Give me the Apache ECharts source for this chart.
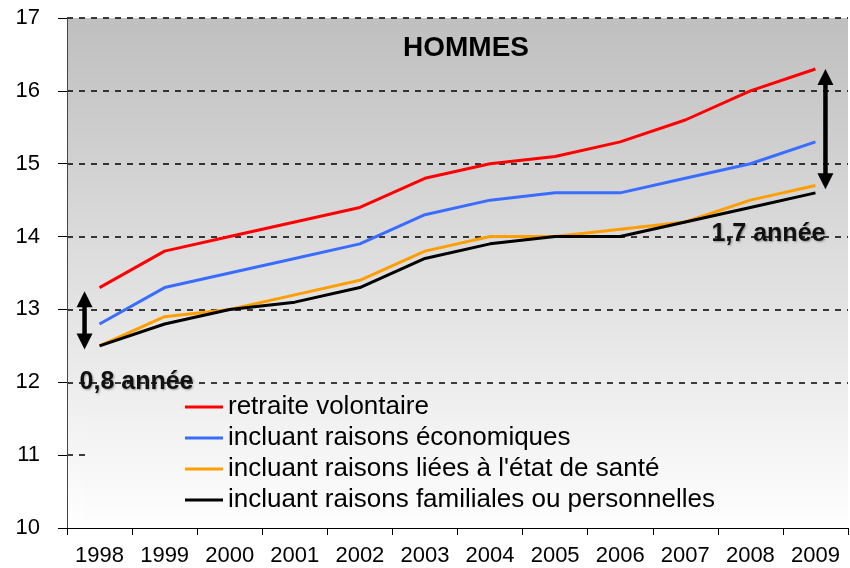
<!DOCTYPE html>
<html>
<head>
<meta charset="utf-8">
<script src="https://cdn.jsdelivr.net/npm/echarts@6/dist/echarts.min.js"></script>
<style>html,body{margin:0;padding:0;background:#fff}#c{width:850px;height:568px}</style>
</head>
<body>
<div id="c"></div>
<script>
const years = ['1998','1999','2000','2001','2002','2003','2004','2005','2006','2007','2008','2009'];
const retraiteVolontaire = [13.3, 13.8, 14.0, 14.2, 14.4, 14.8, 15.0, 15.1, 15.3, 15.6, 16.0, 16.3];
const raisonsEconomiques = [12.8, 13.3, 13.5, 13.7, 13.9, 14.3, 14.5, 14.6, 14.6, 14.8, 15.0, 15.3];
const raisonsSante = [12.5, 12.9, 13.0, 13.2, 13.4, 13.8, 14.0, 14.0, 14.1, 14.2, 14.5, 14.7];
const raisonsFamiliales = [12.5, 12.8, 13.0, 13.1, 13.3, 13.7, 13.9, 14.0, 14.0, 14.2, 14.4, 14.6];
const seriesNames = ['retraite volontaire', 'incluant raisons économiques', "incluant raisons liées à l'état de santé", 'incluant raisons familiales ou personnelles'];
const seriesColors = ['#ff0000', '#3a6dff', '#ff9e00', '#000000'];
const gapLeft = [13.25, 12.45];
const gapRight = [16.3, 14.65];
const gapLabels = ['0,8 année', '1,7 année'];

const FONT = '"Liberation Sans", Arial, sans-serif';
const chart = echarts.init(document.getElementById('c'), null, {renderer: 'canvas'});
const data = [retraiteVolontaire, raisonsEconomiques, raisonsSante, raisonsFamiliales];

chart.setOption({
  animation: false,
  backgroundColor: '#ffffff',
  title: {
    text: 'HOMMES', left: 461, top: 29, textAlign: 'center',
    textStyle: {fontFamily: FONT, fontSize: 28, fontWeight: 'bold', color: '#000'}
  },
  grid: {
    left: 67, right: 2, top: 18, bottom: 40, show: true, borderWidth: 0,
    outerBoundsMode: 'none',
    backgroundColor: new echarts.graphic.LinearGradient(0, 0, 0, 1, [
      {offset: 0, color: '#bfbfbf'}, {offset: 1, color: '#ffffff'}
    ])
  },
  legend: {
    orient: 'vertical', left: 185, top: 394, icon: 'rect',
    itemWidth: 38, itemHeight: 3, itemGap: 5, padding: 0, z: 5,
    textStyle: {fontFamily: FONT, fontSize: 26, lineHeight: 26, color: '#000'},
    data: seriesNames
  },
  xAxis: {
    type: 'category', data: years, boundaryGap: true, z: 4,
    axisLine: {lineStyle: {color: '#000', width: 1}},
    axisTick: {show: true, alignWithLabel: false, length: 7, lineStyle: {color: '#000'}},
    axisLabel: {fontFamily: FONT, fontSize: 22, color: '#000', margin: 17}
  },
  yAxis: {
    type: 'value', min: 10, max: 17, interval: 1,
    axisLine: {show: true, lineStyle: {color: '#444', width: 1}},
    axisTick: {show: true, length: 9, lineStyle: {color: '#000'}},
    axisLabel: {fontFamily: FONT, fontSize: 22, color: '#000', margin: 27},
    splitLine: {show: true, showMinLine: false, lineStyle: {color: '#000', type: [6, 6], width: 1.5}}
  },
  series: data.map((d, i) => ({
    name: seriesNames[i], type: 'line', data: d, symbol: 'none', z: 3,
    lineStyle: {color: seriesColors[i], width: 3},
    itemStyle: {color: seriesColors[i]}
  }))
});

function arrow(x, yTop, yBot) {
  const hw = 8, hh = 16;
  return [
    {type: 'line', z: 6, shape: {x1: x, y1: yTop + hh - 2, x2: x, y2: yBot - hh + 2}, style: {stroke: '#000', lineWidth: 4.5}},
    {type: 'polygon', z: 6, shape: {points: [[x, yTop], [x - hw, yTop + hh], [x + hw, yTop + hh]]}, style: {fill: '#000'}},
    {type: 'polygon', z: 6, shape: {points: [[x, yBot], [x - hw, yBot - hh], [x + hw, yBot - hh]]}, style: {fill: '#000'}}
  ];
}

const py = v => chart.convertToPixel({yAxisIndex: 0}, v);
const px = c => chart.convertToPixel({xAxisIndex: 0}, c);
const x0 = px(years[0]), xN = px(years[years.length - 1]);
const gridRight = 848;
const y11top = py(12) + 10, yBottom = py(10) - 6;

const annoStyle = {
  fontFamily: FONT, fontSize: 25, fontWeight: 'bold', fill: '#111',
  textAlign: 'center', textVerticalAlign: 'middle',
  textShadowColor: 'rgba(0,0,0,0.35)', textShadowBlur: 2, textShadowOffsetX: 1, textShadowOffsetY: 1
};

chart.setOption({
  graphic: [
    {type: 'rect', z: 1, silent: true,
      shape: {x: 85, y: y11top, width: gridRight - 85, height: yBottom - y11top},
      style: {fill: new echarts.graphic.LinearGradient(0, 0, 0, 1, [
        {offset: 0, color: '#eeeeee'}, {offset: 1, color: '#fdfdfd'}
      ])}},
    ...arrow(x0 - 15, py(gapLeft[0]), py(gapLeft[1])),
    ...arrow(xN + 10, py(gapRight[0]), py(gapRight[1])),
    {type: 'text', z: 6, x: x0 + 37, y: py(12.0), style: Object.assign({text: gapLabels[0]}, annoStyle)},
    {type: 'text', z: 6, x: xN - 47, y: py(14.04), style: Object.assign({text: gapLabels[1]}, annoStyle)}
  ]
});
</script>
</body>
</html>
